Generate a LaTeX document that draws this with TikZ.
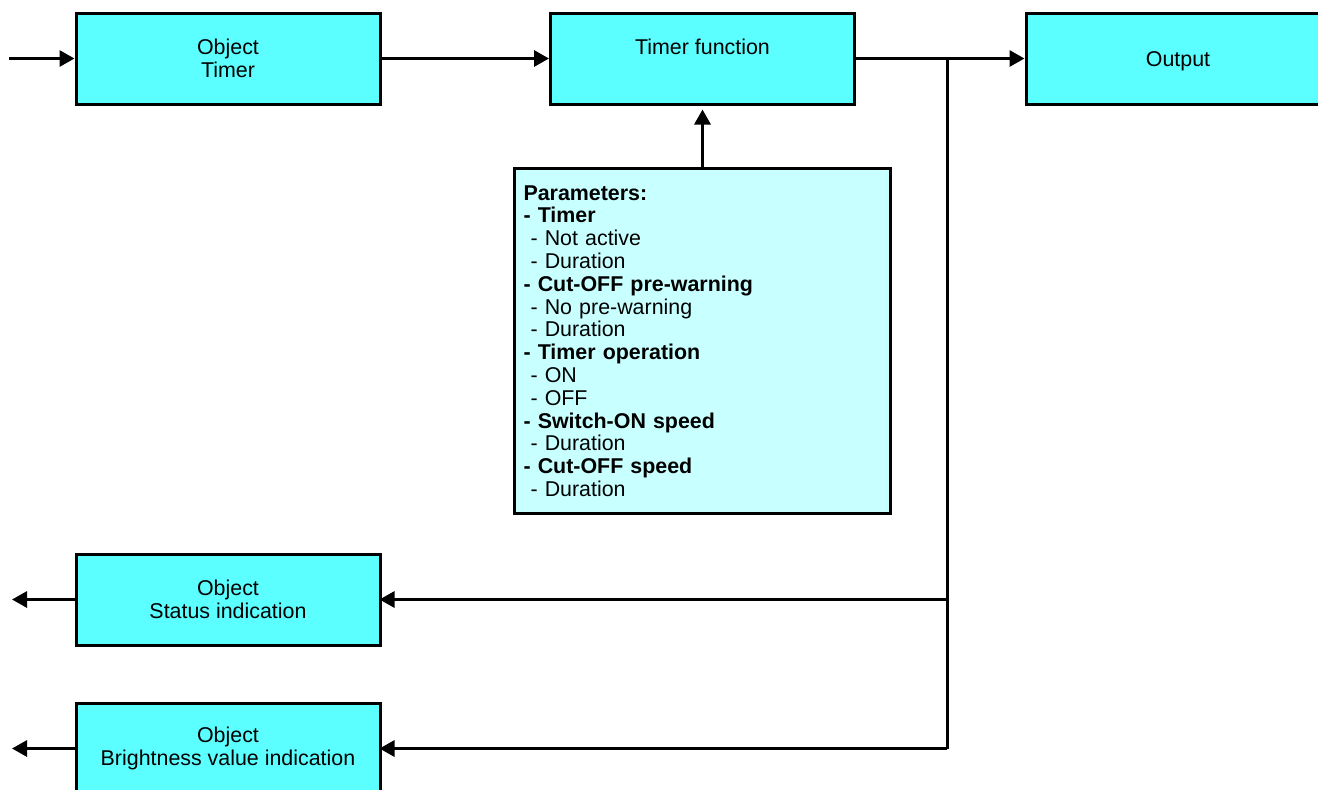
\documentclass[tikz,border=0pt]{standalone}
\usepackage{fontspec}
\setmainfont{Liberation Sans}
\usetikzlibrary{arrows.meta}
\definecolor{boxcyan}{HTML}{5CFFFF}
\definecolor{parcyan}{HTML}{C8FFFF}
\begin{document}
\begin{tikzpicture}[x=0.5pt,y=-0.5pt,
  every node/.style={font=\fontsize{10.7}{11.4}\selectfont},
  blk/.style={draw,line width=1.5pt,fill=boxcyan,minimum width=152pt,minimum height=45.5pt,inner sep=0pt,align=center},
  conn/.style={line width=1.5pt},
  arr/.style={conn,-{Triangle[length=7.5pt,width=8pt]}}]
\useasboundingbox (0,0) rectangle (1318,789);
\clip (0,0) rectangle (1318,789);
\node[blk] (ot) at (228,58.5) {Object\\Timer};
\node[blk] (tf) at (702.5,58.5) {Timer function\\\mbox{}};
\node[blk,text height=7.7pt,text depth=0pt] (out) at (1178,58.5) {Output};
\node[blk] (st) at (228,599.5) {Object\\Status indication};
\node[blk] (br) at (228,748.5) {Object\\Brightness value indication};
\node[draw,line width=1.5pt,fill=parcyan,anchor=north west,minimum height=172.5pt,
  text width=179pt,inner xsep=4.5pt,inner ysep=0pt,align=left] (par) at (513,167)
  {\textbf{Parameters:}\\
   \textbf{- Timer}\\
   \hspace{3.5pt}- Not active\\
   \hspace{3.5pt}- Duration\\
   \textbf{- Cut-OFF pre-warning}\\
   \hspace{3.5pt}- No pre-warning\\
   \hspace{3.5pt}- Duration\\
   \textbf{- Timer operation}\\
   \hspace{3.5pt}- ON\\
   \hspace{3.5pt}- OFF\\
   \textbf{- Switch-ON speed}\\
   \hspace{3.5pt}- Duration\\
   \textbf{- Cut-OFF speed}\\
   \hspace{3.5pt}- Duration};
\coordinate (in) at (9,58.5);
\coordinate (j) at (947,58.5);
\coordinate (sto) at (12,599.5);
\coordinate (bro) at (12,748.5);
\draw[arr] (in) -- (ot.west);
\draw[arr] (ot.east) -- (tf.west);
\draw[arr] (tf.east) -- (out.west);
\draw[arr,shorten >=2pt] (par.north) -- (tf.south);
\draw[conn,line join=miter] (j) -- (j |- br.east);
\draw[arr] (j |- br.east) -- ([xshift=-1pt]br.east);
\draw[arr] (j |- st.east) -- ([xshift=-1pt]st.east);
\draw[arr] (st.west) -- (sto);
\draw[arr] (br.west) -- (bro);
\end{tikzpicture}
\end{document}
